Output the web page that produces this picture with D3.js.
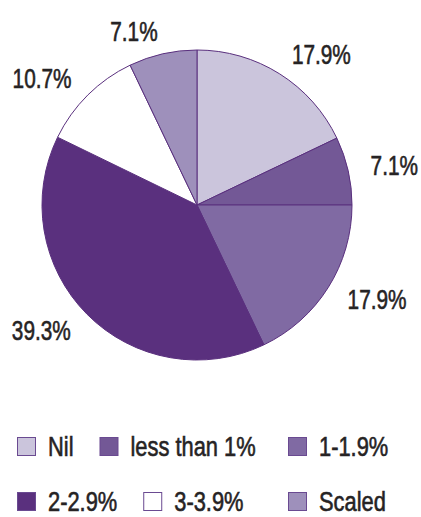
<!DOCTYPE html>
<html>
<head>
<meta charset="utf-8">
<script src="https://cdn.jsdelivr.net/npm/d3@7"></script>
<style>
	html, body { margin: 0; padding: 0; background: #fff; }
	text { font-family: "Liberation Sans", Arial, sans-serif; fill: #262324; stroke: #262324; stroke-width: 0.6px; font-size: 27px; }
</style>
</head>
<body>
<svg id="chart" width="421" height="517"></svg>
<script>
"use strict";

const categories = ['Nil', 'less than 1%', '1-1.9%', '2-2.9%', '3-3.9%', 'Scaled'];
const values = [17.9, 7.1, 17.9, 39.3, 10.7, 7.1];
const colors = ['#cbc5dc', '#735896', '#806aa3', '#5a307e', '#ffffff', '#9e90bb'];

(() => {
	const svg = d3.select('#chart');
	const cx = 197, cy = 205, radius = 155;
	// no condensed face installed, so narrow the text by hand
	const squeeze = 0.77;
	const legend_squeeze = 0.81;
	const data = categories.map((name, i) => ({ name, value: values[i], color: colors[i] }));

	const pie = d3.pie().value((d) => d.value).sort(null);
	const arc = d3.arc().innerRadius(0).outerRadius(radius);
	const label_arc = d3.arc().innerRadius(178).outerRadius(178);

	const g = svg.append('g').attr('transform', `translate(${cx},${cy})`);
	const arcs = pie(data);

	g.selectAll('path.slice')
		.data(arcs)
		.enter()
		.append('path')
		.attr('class', 'slice')
		.attr('d', arc)
		.attr('fill', (d) => d.data.color)
		.attr('stroke', '#5a307e')
		.attr('stroke-width', 1);

	g.selectAll('g.pct')
		.data(arcs)
		.enter()
		.append('g')
		.attr('class', 'pct')
		.attr('transform', (d) => {
			const [x, y] = label_arc.centroid(d);
			return `translate(${x},${y}) scale(${squeeze},1)`;
		})
		.append('text')
		.attr('dy', '0.35em')
		.attr('text-anchor', (d) => label_arc.centroid(d)[0] >= 0 ? 'start' : 'end')
		.text((d) => `${d.data.value.toFixed(1)}%`);

	// legend: two rows of three, flowing, third column kept in line
	const rows = [data.slice(0, 3), data.slice(3, 6)];
	const row_y = [437, 492];
	const box = 19;
	rows.forEach((row, r) => {
		let x = 17;
		row.forEach((d, i) => {
			if(i == 2) x = Math.max(x, 288);
			const item = svg.append('g').attr('transform', `translate(${x},${row_y[r]})`);
			item.append('rect')
				.attr('x', 0.5).attr('y', 0.5)
				.attr('width', box - 1).attr('height', box - 1)
				.attr('fill', d.color)
				.attr('stroke', '#6a4a91')
				.attr('stroke-width', 1);
			const t = item.append('g')
				.attr('transform', `translate(${box + 12},${box}) scale(${legend_squeeze},1)`)
				.append('text')
				.text(d.name);
			x += box + 12 + t.node().getComputedTextLength() * legend_squeeze + 26;
		});
	});
})();
</script>
</body>
</html>
